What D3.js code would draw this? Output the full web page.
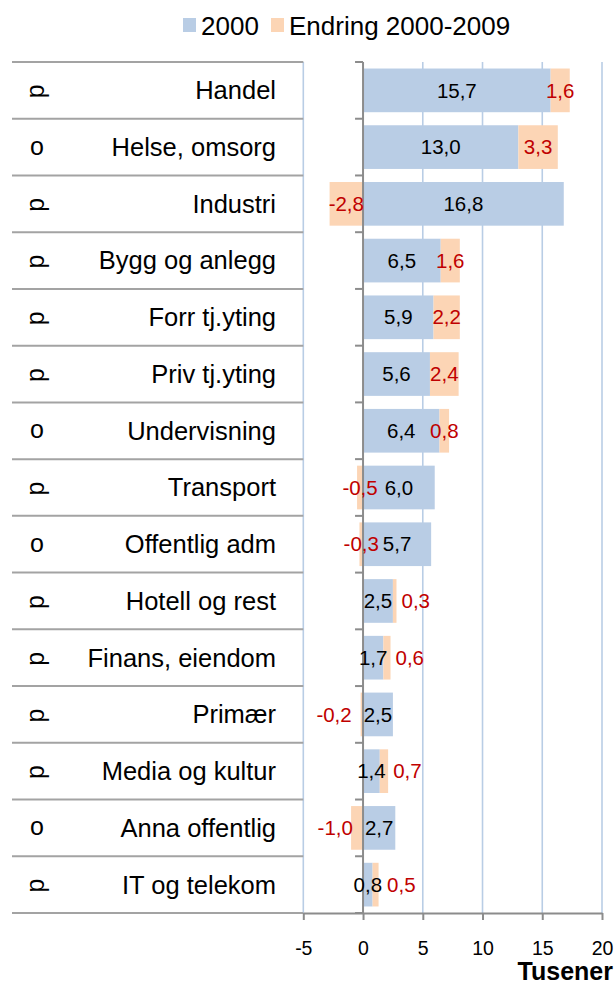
<!DOCTYPE html>
<html>
  <head>
    <meta charset="utf-8">
    <title>Sysselsetting etter næring</title>
    <style>
      body { margin: 0; background: #fff; }
      svg { display: block; font-family: Arial, "Liberation Sans", sans-serif; }
    </style>
    <script src="https://cdn.jsdelivr.net/npm/d3@7"></script>
  </head>
  <body>
    <svg id="chart" width="616" height="984"></svg>
    <script>
      // data (thousands)
      var categories = ['Handel', 'Helse, omsorg', 'Industri', 'Bygg og anlegg', 'Forr tj.yting',
        'Priv tj.yting', 'Undervisning', 'Transport', 'Offentlig adm', 'Hotell og rest',
        'Finans, eiendom', 'Primær', 'Media og kultur', 'Anna offentlig', 'IT og telekom'];
      var sector = ['p', 'o', 'p', 'p', 'p', 'p', 'o', 'p', 'o', 'p', 'p', 'p', 'p', 'o', 'p'];
      var base2000 = [15.7, 13.0, 16.8, 6.5, 5.9, 5.6, 6.4, 6.0, 5.7, 2.5, 1.7, 2.5, 1.4, 2.7, 0.8];
      var change = [1.6, 3.3, -2.8, 1.6, 2.2, 2.4, 0.8, -0.5, -0.3, 0.3, 0.6, -0.2, 0.7, -1.0, 0.5];
      var xTicks = [-5, 0, 5, 10, 15, 20];
      var seriesNames = ['2000', 'Endring 2000-2009'];

      (function() {
        var blue = '#b9cde5', orange = '#fcd5b5', red = '#c00000';
        var fmt = function(v) { return v.toFixed(1).replace('.', ','); };

        var svg = d3.select('#chart');
        var yTop = 62, yBottom = 913;

        var x = d3.scaleLinear().domain([-5, 20]).range([303.3, 602]);
        var y = d3.scaleBand().domain(categories).range([yTop, yBottom]).paddingInner(0.23).paddingOuter(0.115);
        var step = y.step();
        var bounds = categories.map(function(c) { return y(c) - step * 0.115; }).concat([yBottom]);

        // gridlines
        svg.append('g').selectAll('line').data(xTicks.filter(function(t) { return t != 0; }))
          .enter().append('line')
          .attr('x1', function(d) { return x(d); }).attr('x2', function(d) { return x(d); })
          .attr('y1', yTop).attr('y2', yBottom)
          .attr('stroke', blue).attr('stroke-width', 1.6);

        // table lines on the left
        svg.append('g').selectAll('line').data(bounds).enter().append('line')
          .attr('x1', 12).attr('x2', x(-5)).attr('y1', function(b) { return b; }).attr('y2', function(b) { return b; })
          .attr('stroke', '#a3a3a3').attr('stroke-width', 2);

        // bars
        var rows = categories.map(function(c, i) { return { cat: c, base: base2000[i], ch: change[i], sec: sector[i] }; });
        var bars = svg.append('g');
        bars.selectAll('rect.base').data(rows).enter().append('rect').attr('class', 'base')
          .attr('x', x(0)).attr('y', function(d) { return y(d.cat); })
          .attr('width', function(d) { return x(d.base) - x(0); })
          .attr('height', y.bandwidth()).attr('fill', blue);
        bars.selectAll('rect.ch').data(rows).enter().append('rect').attr('class', 'ch')
          .attr('x', function(d) { return d.ch >= 0 ? x(d.base) : x(d.ch); })
          .attr('y', function(d) { return y(d.cat); })
          .attr('width', function(d) { return d.ch >= 0 ? x(d.base + d.ch) - x(d.base) : x(0) - x(d.ch); })
          .attr('height', y.bandwidth()).attr('fill', orange);

        // zero axis with ticks at row edges
        var zero = svg.append('g').attr('stroke', '#8c8c8c').attr('stroke-width', 2);
        zero.append('line').attr('x1', x(0)).attr('x2', x(0)).attr('y1', yTop).attr('y2', yBottom);
        bounds.forEach(function(b) {
          zero.append('line').attr('x1', x(0) - 8).attr('x2', x(0)).attr('y1', b).attr('y2', b);
        });

        // bottom axis
        var xAxis = svg.append('g').attr('transform', 'translate(0,' + yBottom + ')')
          .call(d3.axisBottom(x).tickValues(xTicks).tickSize(7).tickSizeOuter(0).tickPadding(21)
            .tickFormat(function(d) { return d < 0 ? '-' + Math.abs(d) : d; }));
        xAxis.attr('font-size', null).attr('font-family', null);
        xAxis.select('.domain').attr('stroke', '#8c8c8c').attr('stroke-width', 2);
        xAxis.selectAll('.tick line').attr('stroke', '#8c8c8c').attr('stroke-width', 2);
        xAxis.selectAll('.tick text').attr('fill', '#000').style('font-size', '19.5px');

        svg.append('text').attr('x', 613).attr('y', 980).attr('text-anchor', 'end')
          .style('font-size', '25px').style('font-weight', 'bold').text('Tusener');

        // row labels and sector symbols
        var mid = function(c) { return y(c) + y.bandwidth() / 2; };
        svg.append('g').selectAll('text').data(rows).enter().append('text')
          .attr('x', 276).attr('y', function(d) { return mid(d.cat); })
          .attr('dy', '0.35em').attr('text-anchor', 'end').style('font-size', '25.5px')
          .text(function(d) { return d.cat; });
        svg.append('g').selectAll('text').data(rows).enter().append('text')
          .attr('text-anchor', 'middle').style('font-size', '25px')
          .attr('dy', function(d) { return d.sec == 'p' ? '0.16em' : '0.26em'; })
          .attr('transform', function(d) {
            return d.sec == 'p' ? 'translate(40,' + (mid(d.cat) + 1) + ') rotate(-90)'
                                : 'translate(37,' + (mid(d.cat) + 1) + ')';
          })
          .text(function(d) { return d.sec; });

        // value labels
        var baseLabels = svg.append('g').selectAll('text').data(rows).enter().append('text')
          .attr('x', function(d) { return x(d.base / 2); })
          .attr('y', function(d) { return mid(d.cat); })
          .attr('dy', '0.35em').attr('text-anchor', 'middle').style('font-size', '20.5px')
          .text(function(d) { return fmt(d.base); });
        var chLabels = svg.append('g').selectAll('text').data(rows).enter().append('text')
          .attr('y', function(d) { return mid(d.cat); })
          .attr('dy', '0.35em').attr('text-anchor', 'middle').style('font-size', '20.5px').attr('fill', red)
          .text(function(d) { return fmt(d.ch); });

        // centre change labels on their segment, push them aside when they hit the 2000 label
        var bw = baseLabels.nodes().map(function(n) { return n.getComputedTextLength(); });
        chLabels.each(function(d, i) {
          var w = this.getComputedTextLength();
          var cx = d.ch >= 0 ? x(d.base + d.ch / 2) : x(d.ch / 2);
          var bl = x(d.base / 2) - bw[i] / 2, br = x(d.base / 2) + bw[i] / 2;
          if (d.ch >= 0 && cx - w / 2 < br) cx = Math.max(x(d.base + d.ch), br) + 5 + w / 2;
          if (d.ch < 0 && cx + w / 2 > bl) cx = bl - 12 - w / 2;
          d3.select(this).attr('x', cx);
        });

        // legend
        var legend = svg.append('g');
        var lx = [183, 271], colors = [blue, orange];
        seriesNames.forEach(function(s, i) {
          legend.append('rect').attr('x', lx[i]).attr('y', 18).attr('width', 13).attr('height', 14).attr('fill', colors[i]);
          legend.append('text').attr('x', lx[i] + 18).attr('y', 35).style('font-size', '26px').text(s);
        });
      })();
    </script>
  </body>
</html>
